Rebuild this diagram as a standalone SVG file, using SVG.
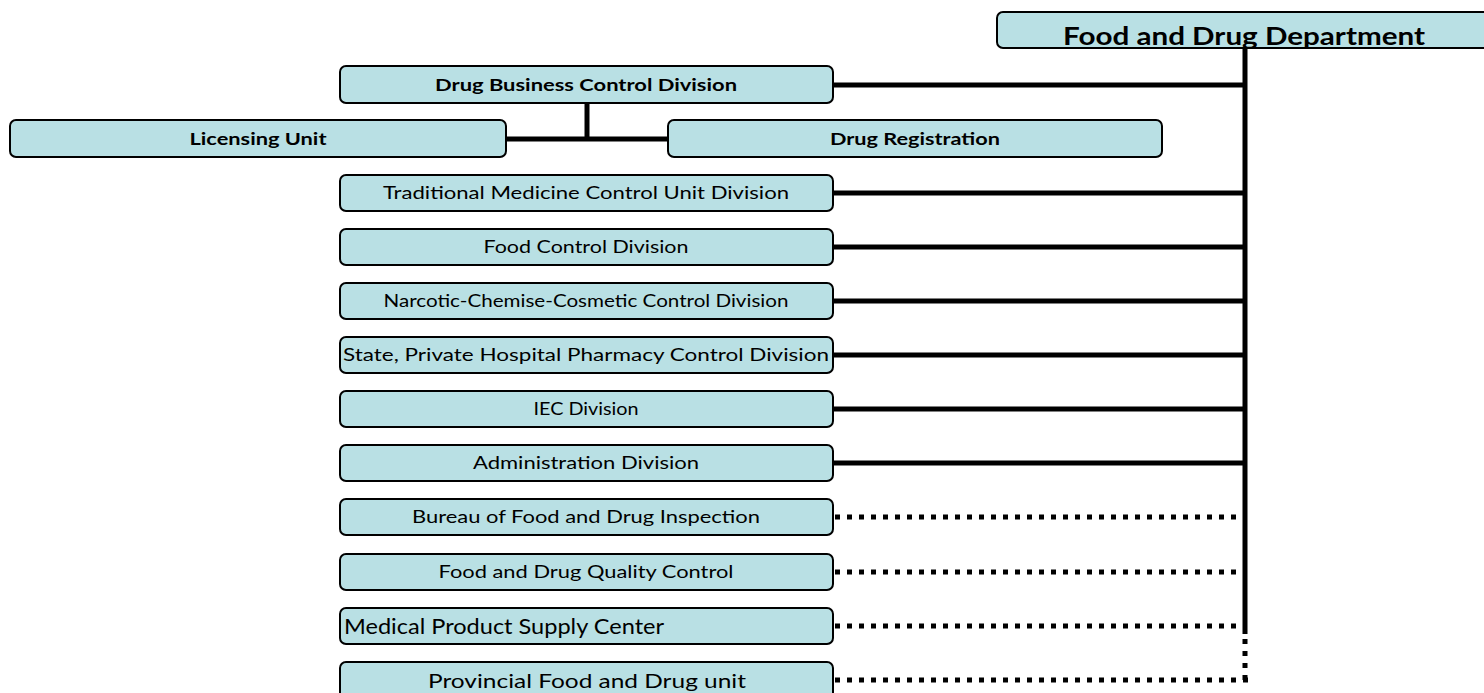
<svg xmlns="http://www.w3.org/2000/svg" width="1484" height="693" viewBox="0 0 1484 693">
<style>
.box{fill:#b9e0e4;stroke:#000;stroke-width:2}
.t{font-family:Lato,"Liberation Sans",sans-serif;font-size:17px;fill:#000;text-anchor:middle}
.b{font-weight:bold}
.solid{stroke:#000;stroke-width:5;fill:none}
.dot{stroke:#000;stroke-width:5;fill:none;stroke-dasharray:5 7}
</style>
<defs>
<clipPath id="topclip"><rect x="997" y="12" width="520" height="36"/></clipPath>
</defs>
<rect width="1484" height="693" fill="#fff"/>
<g id="connectors">
<line class="solid" x1="1245" y1="48" x2="1245" y2="634"/>
<line class="dot" x1="1245" y1="639" x2="1245" y2="684"/>
<line class="solid" x1="833" y1="85" x2="1245" y2="85"/>
<line class="solid" x1="587" y1="103" x2="587" y2="139"/>
<line class="solid" x1="506" y1="139" x2="668" y2="139"/>
<line class="solid" x1="833" y1="193" x2="1245" y2="193"/>
<line class="solid" x1="833" y1="247" x2="1245" y2="247"/>
<line class="solid" x1="833" y1="301" x2="1245" y2="301"/>
<line class="solid" x1="833" y1="355" x2="1245" y2="355"/>
<line class="solid" x1="833" y1="409" x2="1245" y2="409"/>
<line class="solid" x1="833" y1="463" x2="1245" y2="463"/>
<line class="dot" x1="835" y1="517" x2="1240" y2="517"/>
<line class="dot" x1="835" y1="572" x2="1240" y2="572"/>
<line class="dot" x1="835" y1="626" x2="1240" y2="626"/>
<line class="dot" x1="835" y1="680" x2="1248" y2="680"/>
</g>
<g id="n-top">
<rect class="box" x="997" y="12" width="520" height="36" rx="6"/>
<text class="t b" x="1244" y="45" style="font-size:24px" clip-path="url(#topclip)" textLength="362" lengthAdjust="spacingAndGlyphs">Food and Drug Department</text>
</g>
<g id="n-dbc">
<rect class="box" x="340" y="66" width="493" height="37" rx="6"/>
<text class="t b" x="586" y="91" textLength="302" lengthAdjust="spacingAndGlyphs">Drug Business Control Division</text>
</g>
<g id="n-lic">
<rect class="box" x="10" y="120" width="496" height="37" rx="6"/>
<text class="t b" x="258" y="145" textLength="137" lengthAdjust="spacingAndGlyphs">Licensing Unit</text>
</g>
<g id="n-reg">
<rect class="box" x="668" y="120" width="494" height="37" rx="6"/>
<text class="t b" x="915" y="145" textLength="170" lengthAdjust="spacingAndGlyphs">Drug Registration</text>
</g>
<g id="n-trad">
<rect class="box" x="340" y="175" width="493" height="36" rx="6"/>
<text class="t" x="586" y="199" textLength="406" lengthAdjust="spacingAndGlyphs">Traditional Medicine Control Unit Division</text>
</g>
<g id="n-food">
<rect class="box" x="340" y="229" width="493" height="36" rx="6"/>
<text class="t" x="586" y="253" textLength="205" lengthAdjust="spacingAndGlyphs">Food Control Division</text>
</g>
<g id="n-narc">
<rect class="box" x="340" y="283" width="493" height="36" rx="6"/>
<text class="t" x="586" y="307" textLength="405" lengthAdjust="spacingAndGlyphs">Narcotic-Chemise-Cosmetic Control Division</text>
</g>
<g id="n-state">
<rect class="box" x="340" y="337" width="493" height="36" rx="6"/>
<text class="t" x="586" y="361" textLength="486" lengthAdjust="spacingAndGlyphs">State, Private Hospital Pharmacy Control Division</text>
</g>
<g id="n-iec">
<rect class="box" x="340" y="391" width="493" height="36" rx="6"/>
<text class="t" x="586" y="415" textLength="105" lengthAdjust="spacingAndGlyphs">IEC Division</text>
</g>
<g id="n-admin">
<rect class="box" x="340" y="445" width="493" height="36" rx="6"/>
<text class="t" x="586" y="469" textLength="226" lengthAdjust="spacingAndGlyphs">Administration Division</text>
</g>
<g id="n-bureau">
<rect class="box" x="340" y="499" width="493" height="36" rx="6"/>
<text class="t" x="586" y="523" textLength="348" lengthAdjust="spacingAndGlyphs">Bureau of Food and Drug Inspection</text>
</g>
<g id="n-quality">
<rect class="box" x="340" y="554" width="493" height="36" rx="6"/>
<text class="t" x="586" y="578" textLength="295" lengthAdjust="spacingAndGlyphs">Food and Drug Quality Control</text>
</g>
<g id="n-medical">
<rect class="box" x="340" y="608" width="493" height="36" rx="6"/>
<text class="t" x="344" y="634" style="font-size:21px;text-anchor:start" textLength="320" lengthAdjust="spacingAndGlyphs">Medical Product Supply Center</text>
</g>
<g id="n-prov">
<rect class="box" x="340" y="662" width="493" height="40" rx="6"/>
<text class="t" x="587" y="688" style="font-size:19px" textLength="318" lengthAdjust="spacingAndGlyphs">Provincial Food and Drug unit</text>
</g>
</svg>
